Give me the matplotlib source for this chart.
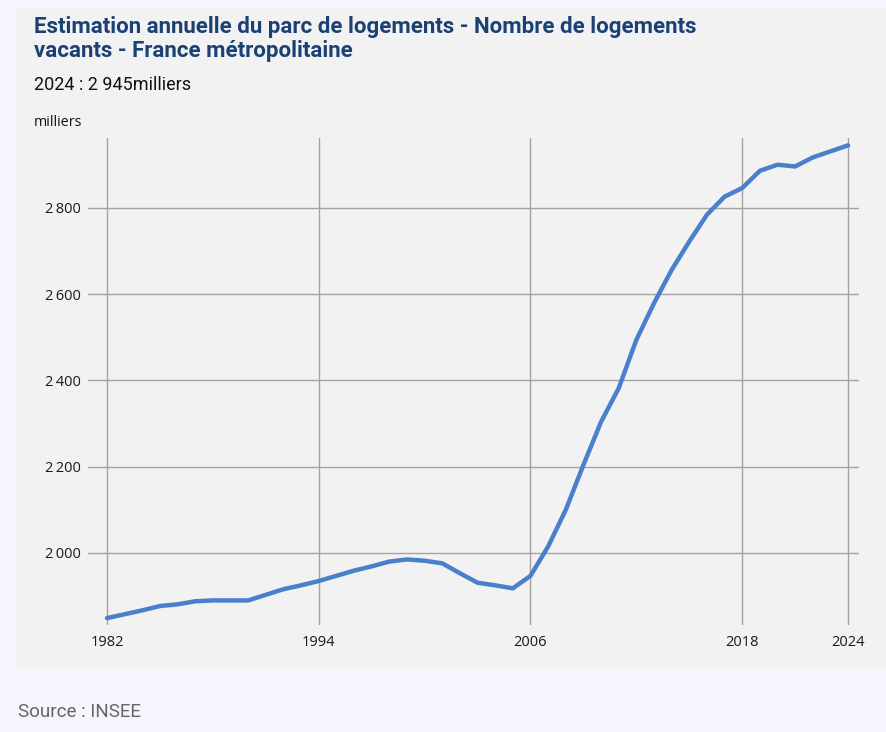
import matplotlib
matplotlib.use("Agg")
import matplotlib.pyplot as plt
from matplotlib.patches import Rectangle
from matplotlib.ticker import FuncFormatter

# donnees (milliers de logements vacants)
years = list(range(1982, 2025))
vacants = [1849, 1858, 1867, 1877, 1881, 1888, 1890, 1890, 1890, 1903,
           1916, 1925, 1935, 1947, 1959, 1969, 1980, 1985, 1982, 1976,
           1953, 1931, 1925, 1918, 1947, 2015, 2100, 2204, 2304, 2382,
           2494, 2579, 2656, 2722, 2784, 2826, 2846, 2886, 2900, 2896,
           2917, 2931, 2945]
xticks = [1982, 1994, 2006, 2018, 2024]
yticks = [2000, 2200, 2400, 2600, 2800]

W, H = 886, 732
fig = plt.figure(figsize=(W / 100, H / 100), dpi=100)
fig.patch.set_facecolor('#F4F5FD')
fig.patches.append(Rectangle((17 / W, 1 - 670 / H), 1, (670 - 8) / H,
                             transform=fig.transFigure, facecolor='#F2F2F2',
                             edgecolor='none', zorder=-5))

ax = fig.add_axes([88 / W, 1 - 625 / H, (859 - 88) / W, (625 - 138) / H])
ax.set_zorder(2)
ax.set_facecolor('none')
ax.plot(years, vacants, color='#4A7FCC', lw=3.2, solid_joinstyle='round',
        solid_capstyle='round', zorder=3)

ax.set_xlim(1980.92, 2024.62)
ax.set_ylim(1833, 2962)
ax.set_xticks(xticks)
ax.set_yticks(yticks)
ax.yaxis.set_major_formatter(FuncFormatter(
    lambda v, p: '{:,}'.format(int(v)).replace(',', '\u2009')))
ax.grid(True, color='#A3A3A3', lw=1)
ax.tick_params(length=0, labelsize=10.5, colors='#1a1a1a')
ax.tick_params(axis='x', pad=7)
ax.tick_params(axis='y', pad=5)
for lab in ax.get_xticklabels() + ax.get_yticklabels():
    lab.set_family(['Open Sans', 'DejaVu Sans'])
for s in ax.spines.values():
    s.set_visible(False)

fig.text(34 / W, 1 - 39 / H, 'Estimation annuelle du parc de logements - Nombre de logements\nvacants - France métropolitaine',
         family='Roboto', weight='bold', fontsize=16,
         color='#1B4174', va='center', linespacing=1.15)
fig.text(34 / W, 1 - 85 / H, '2024 : 2 945milliers', family='Roboto',
         fontsize=13, color='#111111', va='center')
fig.text(34 / W, 1 - 122 / H, 'milliers', family='Open Sans',
         fontsize=10.3, color='#111111', va='center')
fig.text(18 / W, 1 - 712 / H, 'Source : INSEE', family='Roboto',
         fontsize=13.5, color='#666666', va='center')

fig.savefig('out.png', dpi=100, facecolor=fig.get_facecolor())
